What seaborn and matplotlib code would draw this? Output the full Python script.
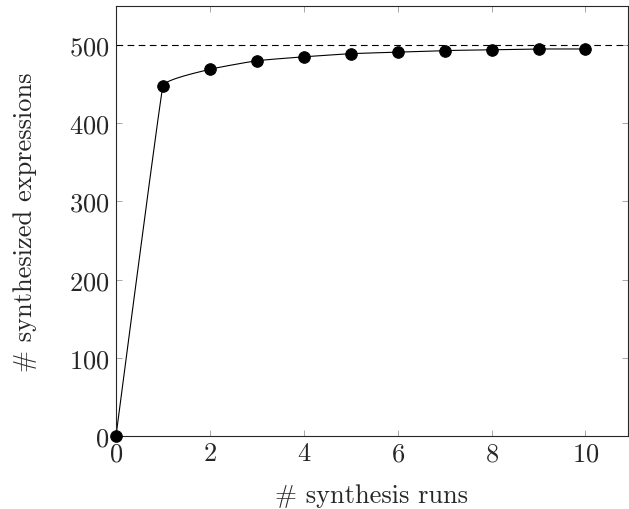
import numpy as np
import pandas as pd
import matplotlib
matplotlib.use("Agg")
import matplotlib.pyplot as plt
import seaborn as sns

## Data ##
runs = [0, 1, 2, 3, 4, 5, 6, 7, 8, 9, 10]
synthesized = [0, 448, 469, 480, 485, 489, 491, 493, 494, 495, 495]
total_expressions = 500

X_LIM = (0, 10.9)
Y_LIM = (0, 550)
AX_RECT = [0.1844, 0.1431, 0.8136, 0.8432]
FIG_SIZE = (6.29, 5.10)

# smooth curve through the points, computed in screen space so the arms scale with segment length
def smooth_curve(xs, ys, tension=0.4, n=40):
    sx = FIG_SIZE[0] * AX_RECT[2] / (X_LIM[1] - X_LIM[0])
    sy = FIG_SIZE[1] * AX_RECT[3] / (Y_LIM[1] - Y_LIM[0])
    pts = np.column_stack([np.array(xs) * sx, np.array(ys) * sy]).astype(float)
    k = tension / 3.0
    out = []
    for i in range(len(pts) - 1):
        p0, p3 = pts[i], pts[i + 1]
        seglen = min(np.linalg.norm(p3 - p0), 0.8)
        if i > 0:
            d = pts[i + 1] - pts[i - 1]
            c1 = p0 + k * seglen * d / np.linalg.norm(d)
        else:
            c1 = p0
        if i + 2 < len(pts):
            d = pts[i + 2] - pts[i]
            c2 = p3 - k * seglen * d / np.linalg.norm(d)
        else:
            c2 = p3
        t = np.linspace(0, 1, n)[:, None]
        seg = ((1 - t) ** 3) * p0 + 3 * ((1 - t) ** 2) * t * c1 + 3 * (1 - t) * t ** 2 * c2 + t ** 3 * p3
        out.append(seg if i == 0 else seg[1:])
    res = np.vstack(out)
    return res[:, 0] / sx, res[:, 1] / sy

sns.set_style("ticks")
plt.rcParams['font.family'] = 'serif'
plt.rcParams['font.serif'] = ['cmr10']
plt.rcParams['mathtext.fontset'] = 'cm'
plt.rcParams['axes.formatter.use_mathtext'] = True

df = pd.DataFrame({'runs': runs, 'synthesized': synthesized})
cx, cy = smooth_curve(runs, synthesized)
curve_df = pd.DataFrame({'x': cx, 'y': cy})

fig = plt.figure(figsize=FIG_SIZE, dpi=100)
ax = fig.add_axes(AX_RECT)

ax.axhline(total_expressions, color='black', linestyle=(0, (6, 4)), linewidth=0.8)
sns.lineplot(data=curve_df, x='x', y='y', sort=False, color='black', linewidth=0.8, ax=ax)
sns.scatterplot(data=df, x='runs', y='synthesized', color='black', s=70, edgecolor='black',
                zorder=5, ax=ax, clip_on=False)

ax.set_xlim(*X_LIM)
ax.set_ylim(*Y_LIM)
ax.set_xticks([0, 2, 4, 6, 8, 10])
ax.set_yticks([0, 100, 200, 300, 400, 500])
ax.tick_params(direction='in', length=4, width=0.6, color='#999999', labelsize=19,
               top=True, right=True)
ax.tick_params(axis='x', pad=4)
ax.tick_params(axis='y', pad=5)
for s in ax.spines.values():
    s.set_linewidth(0.8)
    s.set_visible(True)
ax.set_xlabel('# synthesis runs', fontsize=19, labelpad=13)
ax.set_ylabel('# synthesized expressions', fontsize=19, labelpad=23)

plt.savefig('out.png', dpi=100)
